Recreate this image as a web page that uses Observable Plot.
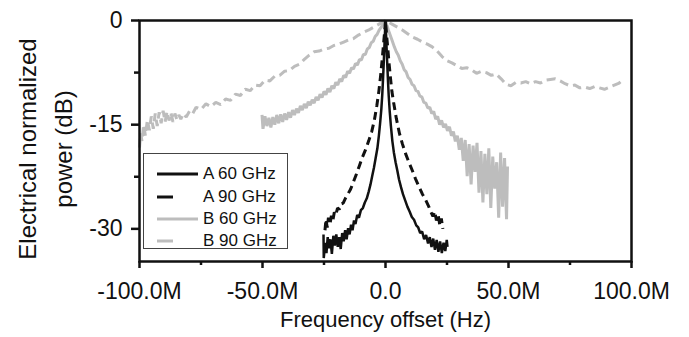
<!DOCTYPE html>
<html>
<head>
<meta charset="utf-8">
<script src="https://cdn.jsdelivr.net/npm/d3@7"></script>
<script src="https://cdn.jsdelivr.net/npm/@observablehq/plot@0.6"></script>
<style>
  html, body { margin: 0; padding: 0; background: #fff; }
  #wrap { position: relative; width: 689px; height: 337px; font-family: "Liberation Sans", Arial, sans-serif; }
  #legend { position: absolute; left: 143px; top: 153px; width: 145px; height: 96px; border: 1px solid #444; background: #fff; box-sizing: border-box; }
  .row { position: absolute; left: 0; height: 22px; display: flex; align-items: center; font-size: 17px; color: #111; }
  .row svg { margin-left: 13px; margin-right: 5px; }
</style>
</head>
<body>
<div id="wrap"><div id="chart"></div><div id="legend"></div></div>
<script>
// Frequency offset in MHz, normalized power in dB
const a60 = [[-25.2,-30.8],[-25.1,-34.2],[-24.5,-32.0],[-24,-33.5],[-23.5,-31.2],[-23,-32.8],[-22.4,-31.5],[-21.8,-33.6],[-21.2,-31.0],[-20.6,-32.4],[-20,-30.8],[-19.4,-32.6],[-18.8,-31.2],[-18.2,-32.9],[-17.6,-30.6],[-17,-31.8],[-16.4,-30.2],[-15.8,-31.5],[-15.2,-29.9],[-14.6,-30.8],[-14,-29.4],[-13.4,-30.2],[-12.8,-28.8],[-12.2,-29.3],[-11.5,-28.0],[-10.8,-28.4],[-10,-27.3],[-9.2,-27.0],[-8.4,-26.2],[-7.6,-25.6],[-6.8,-24.6],[-6.1,-23.6],[-5.4,-22.4],[-4.7,-21.2],[-4.0,-19.8],[-3.3,-18.4],[-2.7,-16.6],[-2.2,-14.8],[-1.7,-12.8],[-1.3,-10.6],[-1.0,-8.4],[-0.7,-6.0],[-0.4,-3.4],[-0.15,-1.2],[0,0],[0.15,-1.3],[0.4,-3.6],[0.7,-6.2],[1.0,-8.6],[1.3,-10.8],[1.7,-13.0],[2.2,-15.2],[2.8,-17.4],[3.4,-19.0],[4.1,-20.4],[4.8,-21.6],[5.5,-22.9],[6.3,-24.0],[7.1,-25.0],[8.0,-25.9],[8.9,-26.8],[9.8,-27.5],[10.7,-28.3],[11.6,-28.7],[12.5,-29.5],[13.3,-29.8],[14.1,-30.6],[14.9,-30.4],[15.7,-31.5],[16.5,-30.9],[17.3,-32.1],[18.0,-31.2],[18.7,-32.6],[19.4,-31.4],[20.1,-33.0],[20.8,-31.6],[21.5,-33.3],[22.2,-31.8],[22.9,-33.5],[23.6,-32.0],[24.3,-33.2],[24.9,-31.6],[25.2,-32.6]];
const a90 = [[-24.6,-30.2],[-24.2,-28.6],[-23.7,-29.8],[-23.2,-28.4],[-22.6,-29.4],[-22.0,-28.1],[-21.4,-28.8],[-20.8,-27.6],[-20.2,-28.0],[-19.5,-27.0],[-18.8,-27.2],[-18.0,-26.4],[-17.2,-26.3],[-16.3,-25.6],[-15.3,-25.0],[-14.2,-24.3],[-13.0,-23.2],[-11.8,-22.1],[-10.6,-20.9],[-9.4,-19.7],[-8.1,-18.6],[-6.9,-17.4],[-5.6,-16.0],[-4.5,-14.3],[-3.5,-12.2],[-2.7,-10.2],[-2.0,-8.0],[-1.4,-5.8],[-0.9,-3.8],[-0.4,-1.8],[0,0],[0.4,-1.9],[0.9,-3.9],[1.4,-6.0],[2.0,-8.2],[2.6,-10.2],[3.3,-11.8],[4.4,-14.1],[5.7,-16.3],[6.9,-17.8],[8.2,-19.2],[9.5,-20.4],[10.9,-21.6],[12.2,-22.8],[13.6,-23.9],[15.0,-25.0],[16.4,-25.9],[17.6,-26.8],[18.5,-27.6],[19.3,-28.2],[20.0,-27.5],[20.7,-28.8],[21.4,-28.0],[22.1,-29.5],[22.7,-28.5],[23.3,-30.0]];
const b60 = [[-50.2,-13.6],[-49.8,-15.6],[-49.0,-13.8],[-48.2,-15.2],[-47.4,-14.0],[-46.6,-15.4],[-45.8,-13.9],[-45.0,-15.0],[-44.2,-13.6],[-43.4,-14.8],[-42.6,-13.5],[-41.8,-14.6],[-41.0,-13.4],[-40.2,-14.3],[-39.4,-13.2],[-38.6,-14.0],[-37.8,-12.9],[-37.0,-13.6],[-36.2,-12.7],[-35.4,-13.3],[-34.6,-12.3],[-33.8,-12.9],[-33.0,-12.0],[-32.2,-12.6],[-31.4,-11.7],[-30.6,-12.2],[-29.8,-11.4],[-29.0,-11.9],[-28.2,-11.0],[-27.4,-11.5],[-26.6,-10.6],[-25.8,-11.1],[-25.0,-10.2],[-24.2,-10.7],[-23.4,-9.8],[-22.6,-10.3],[-21.8,-9.4],[-21.0,-9.8],[-20.2,-8.9],[-19.4,-9.3],[-18.6,-8.4],[-17.8,-8.8],[-17.0,-7.9],[-16.2,-8.2],[-15.4,-7.3],[-14.6,-7.6],[-13.8,-6.8],[-13.0,-7.0],[-12.2,-6.2],[-11.4,-6.4],[-10.6,-5.6],[-9.8,-5.7],[-9.0,-4.9],[-8.2,-4.9],[-7.4,-4.1],[-6.6,-3.9],[-5.8,-3.2],[-5.0,-3.0],[-4.2,-2.3],[-3.4,-2.0],[-2.6,-1.4],[-1.8,-1.0],[-1.0,-0.5],[-0.4,-0.2],[0,0],[0.5,-0.6],[1.2,-1.4],[2.0,-2.2],[2.8,-3.0],[3.6,-3.8],[4.4,-4.5],[5.2,-5.0],[6.0,-5.8],[6.8,-6.3],[7.6,-7.1],[8.4,-7.4],[9.2,-8.2],[10.0,-8.5],[10.8,-9.2],[11.6,-9.4],[12.4,-10.1],[13.2,-10.2],[14.0,-10.9],[14.8,-11.0],[15.6,-11.8],[16.4,-11.9],[17.2,-12.6],[18.0,-12.5],[18.8,-13.4],[19.6,-13.1],[20.4,-14.2],[21.2,-13.8],[22.0,-15.0],[22.8,-14.4],[23.6,-15.4],[24.4,-14.9],[25.2,-15.9],[26.0,-15.3],[26.8,-16.6],[27.6,-16.0],[28.4,-17.4],[29.2,-16.6],[30.0,-18.6],[30.8,-16.9],[31.6,-20.2],[32.4,-17.2],[33.2,-22.4],[34.0,-17.8],[34.8,-23.6],[35.6,-18.0],[36.4,-21.8],[37.2,-17.6],[38.0,-24.8],[38.8,-18.8],[39.6,-26.2],[40.4,-19.2],[41.2,-25.0],[42.0,-18.4],[42.8,-27.0],[43.6,-19.6],[44.4,-24.2],[45.2,-20.4],[46.0,-28.4],[46.8,-19.0],[47.6,-26.8],[48.4,-19.8],[49.2,-28.6],[49.6,-21.0]];
const b90 = [[-100,-18.3],[-99.5,-16.2],[-99,-17.4],[-98.3,-15.0],[-97.6,-16.6],[-96.8,-14.3],[-96,-15.8],[-95.2,-13.8],[-94.4,-15.6],[-93.6,-13.4],[-92.8,-15.2],[-92,-13.2],[-91.2,-14.8],[-90.4,-13.0],[-89.6,-14.6],[-88.8,-13.1],[-88,-14.4],[-87.2,-13.3],[-86.4,-14.6],[-85.6,-13.4],[-84.8,-14.3],[-84,-13.6],[-83.2,-14.2],[-82.2,-13.4],[-81,-13.9],[-79.6,-13.0],[-78.4,-13.4],[-77,-12.5],[-75,-12.8],[-73,-12.0],[-71,-12.4],[-69,-11.8],[-67,-12.1],[-65,-11.3],[-63,-11.5],[-61,-10.6],[-59,-10.8],[-57,-9.9],[-55,-10.1],[-53,-9.3],[-51,-9.4],[-49,-8.6],[-47,-8.7],[-45,-8.0],[-43,-7.9],[-41,-7.3],[-39,-7.2],[-37,-6.6],[-35,-6.3],[-33,-5.6],[-31,-5.0],[-29,-4.5],[-27,-4.4],[-25,-4.1],[-23,-4.0],[-21,-3.6],[-19,-3.4],[-17,-3.1],[-15,-2.8],[-13,-2.6],[-11,-2.1],[-9,-1.7],[-7,-1.4],[-5,-1.0],[-3,-0.6],[-1,-0.2],[0,0],[1,-0.2],[3,-0.6],[5,-1.0],[7,-1.4],[9,-1.9],[11,-2.4],[13,-2.7],[15,-3.1],[17,-3.4],[19,-3.8],[21,-4.4],[23,-5.2],[25,-5.8],[27,-6.1],[29,-6.5],[31,-6.9],[33,-6.8],[35,-7.1],[37,-7.6],[39,-7.3],[41,-7.5],[43,-7.9],[45,-7.7],[47,-8.4],[49,-9.2],[51,-9.4],[53,-8.9],[55,-9.0],[57,-8.8],[59,-9.1],[61,-8.8],[63,-9.0],[65,-8.6],[67,-8.5],[69,-8.4],[71,-8.7],[73,-9.1],[75,-9.4],[77,-9.3],[79,-9.7],[81,-9.6],[83,-9.8],[85,-9.5],[87,-9.7],[89,-9.9],[91,-9.6],[93,-9.3],[95,-9.0],[96.3,-8.6]];

const seriesLabels = ["A 60 GHz", "A 90 GHz", "B 60 GHz", "B 90 GHz"];
const xMajorTicks = [-100, -50, 0, 50, 100];
const xMinorTicks = [-75, -25, 25, 75];
const yMajorTicks = [0, -15, -30];
const yMinorTicks = [-7.5, -22.5];
const xLabel = "Frequency offset (Hz)";
const yLabel = "Electrical normalized\npower (dB)";

const BLACK = "#111";
const GRAY = "#bdbdbd";
const styles = [
  {stroke: BLACK, strokeWidth: 2.5, dash: null},
  {stroke: BLACK, strokeWidth: 3, dash: "8,5"},
  {stroke: GRAY, strokeWidth: 3, dash: null},
  {stroke: GRAY, strokeWidth: 3, dash: "9,5"}
];
const seriesData = [a60, a90, b60, b90];

const lineMark = (i) => Plot.line(seriesData[i], {
  x: d => d[0], y: d => d[1],
  stroke: styles[i].stroke, strokeWidth: styles[i].strokeWidth,
  strokeDasharray: styles[i].dash || undefined, strokeLinejoin: "miter", strokeLinecap: "butt"
});

const xFmt = d => d === 0 ? "0.0" : `${d.toFixed(1)}M`;

const chart = Plot.plot({
  width: 689,
  height: 337,
  marginLeft: 139,
  marginRight: 58,
  marginTop: 20,
  marginBottom: 76,
  style: {fontFamily: "'Liberation Sans', Arial, sans-serif", fontSize: "23px", color: BLACK, background: "#fff"},
  x: {domain: [-100, 100], label: null},
  y: {domain: [-34.7, 0], label: null},
  marks: [
    lineMark(3),
    lineMark(2),
    lineMark(1),
    lineMark(0),
    Plot.frame({stroke: BLACK, strokeWidth: 2.5}),
    Plot.axisX({ticks: xMajorTicks, tickSize: 7, tickPadding: 14, tickFormat: xFmt, strokeWidth: 2.5, stroke: BLACK, fontSize: 23, label: null}),
    Plot.axisX({ticks: xMinorTicks, tickSize: 4, tickFormat: () => "", strokeWidth: 2.5, stroke: BLACK, label: null}),
    Plot.axisY({ticks: yMajorTicks, tickSize: 8, tickPadding: 9, tickFormat: d => String(d), strokeWidth: 2.5, stroke: BLACK, fontSize: 23, label: null}),
    Plot.axisY({ticks: yMinorTicks, tickSize: 5, tickFormat: () => "", strokeWidth: 2.5, stroke: BLACK, label: null}),
    Plot.text([xLabel], {frameAnchor: "bottom", dy: 58, lineAnchor: "middle", fontSize: 22, fill: BLACK}),
    Plot.text([yLabel], {frameAnchor: "left", rotate: -90, dx: -97, dy: 8, lineAnchor: "middle", textAnchor: "middle", lineHeight: 1.5, fontSize: 24, fill: BLACK})
  ]
});
document.getElementById("chart").appendChild(chart);

// Legend
const legend = document.getElementById("legend");
const rowTops = [9, 32, 54, 76];
seriesLabels.forEach((lab, i) => {
  const row = document.createElement("div");
  row.className = "row";
  row.style.top = rowTops[i] + "px";
  const s = styles[i];
  const len = s.dash ? 16 : 41;
  row.innerHTML = `<svg width="41" height="6"><line x1="0" y1="3" x2="${len}" y2="3" stroke="${s.stroke}" stroke-width="3"/></svg><span>${lab}</span>`;
  legend.appendChild(row);
});
</script>
</body>
</html>
